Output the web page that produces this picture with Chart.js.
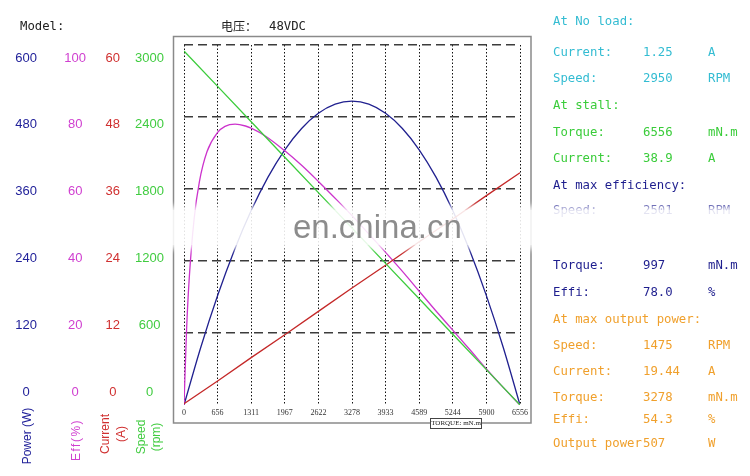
<!DOCTYPE html>
<html>
<head>
<meta charset="utf-8">
<script src="https://cdn.jsdelivr.net/npm/chart.js@4.4.0/dist/chart.umd.min.js"></script>
<style>
html,body{margin:0;padding:0;background:#fff;}
#wrap{position:relative;width:750px;height:476px;overflow:hidden;background:#fff;}
#c{position:absolute;left:0;top:0;}
.t{position:absolute;white-space:pre;font-family:'DejaVu Sans Mono',monospace;font-size:12.3px;line-height:14px;}
.vt{position:absolute;font-family:'Liberation Sans',Arial,sans-serif;font-size:12px;text-align:center;white-space:pre;transform:translate(-50%,-50%) rotate(-90deg);}
.cy{color:#33bcd2;} .gr{color:#3acc3a;} .nv{color:#1e1e8e;} .or{color:#f0a02c;}
#band{position:absolute;left:165px;top:210px;width:600px;height:35px;background:rgba(255,255,255,0.88);box-shadow:0 0 6px 4px rgba(255,255,255,0.85);}
#wm{position:absolute;left:293px;top:209px;font-family:'Liberation Sans',Arial,sans-serif;font-size:33px;line-height:36px;color:#8c8c8c;}
#tq{position:absolute;left:430px;top:418px;width:50px;height:9px;border:1px solid #444;background:#fff;font-family:'Liberation Serif',serif;font-size:7px;line-height:9px;text-align:center;color:#222;}
</style>
</head>
<body>
<div id="wrap">
<canvas id="c" width="750" height="476"></canvas>

<div class="t" style="left:20px;top:19px;color:#222;">Model:</div>
<div class="t" style="left:221px;top:18px;color:#222;font-family:'Noto Sans CJK SC',sans-serif;font-size:12px;line-height:16px;">电压：</div>
<div class="t" style="left:269px;top:19px;color:#222;">48VDC</div>

<div class="vt" style="left:27px;top:436px;color:#22229a;line-height:14px;">Power (W)</div>
<div class="vt" style="left:76px;top:440px;color:#d040d0;line-height:14px;letter-spacing:1.5px;">Eff(%)</div>
<div class="vt" style="left:112.5px;top:434px;color:#d03030;line-height:16px;">Current
(A)</div>
<div class="vt" style="left:149px;top:437px;color:#40cc40;line-height:15px;">Speed
(rpm)</div>

<div class="t cy" style="left:553px;top:14px;">At No load:</div>
<div class="t cy" style="left:553px;top:45px;">Current:</div><div class="t cy" style="left:643px;top:45px;">1.25</div><div class="t cy" style="left:708px;top:45px;">A</div>
<div class="t cy" style="left:553px;top:71px;">Speed:</div><div class="t cy" style="left:643px;top:71px;">2950</div><div class="t cy" style="left:708px;top:71px;">RPM</div>
<div class="t gr" style="left:553px;top:98px;">At stall:</div>
<div class="t gr" style="left:553px;top:125px;">Torque:</div><div class="t gr" style="left:643px;top:125px;">6556</div><div class="t gr" style="left:708px;top:125px;">mN.m</div>
<div class="t gr" style="left:553px;top:151px;">Current:</div><div class="t gr" style="left:643px;top:151px;">38.9</div><div class="t gr" style="left:708px;top:151px;">A</div>
<div class="t nv" style="left:553px;top:178px;">At max efficiency:</div>
<div class="t nv" style="left:553px;top:203px;">Speed:</div><div class="t nv" style="left:643px;top:203px;">2501</div><div class="t nv" style="left:708px;top:203px;">RPM</div>
<div class="t nv" style="left:553px;top:258px;">Torque:</div><div class="t nv" style="left:643px;top:258px;">997</div><div class="t nv" style="left:708px;top:258px;">mN.m</div>
<div class="t nv" style="left:553px;top:285px;">Effi:</div><div class="t nv" style="left:643px;top:285px;">78.0</div><div class="t nv" style="left:708px;top:285px;">%</div>
<div class="t or" style="left:553px;top:312px;">At max output power:</div>
<div class="t or" style="left:553px;top:338px;">Speed:</div><div class="t or" style="left:643px;top:338px;">1475</div><div class="t or" style="left:708px;top:338px;">RPM</div>
<div class="t or" style="left:553px;top:364px;">Current:</div><div class="t or" style="left:643px;top:364px;">19.44</div><div class="t or" style="left:708px;top:364px;">A</div>
<div class="t or" style="left:553px;top:390px;">Torque:</div><div class="t or" style="left:643px;top:390px;">3278</div><div class="t or" style="left:708px;top:390px;">mN.m</div>
<div class="t or" style="left:553px;top:412px;">Effi:</div><div class="t or" style="left:643px;top:412px;">54.3</div><div class="t or" style="left:708px;top:412px;">%</div>
<div class="t or" style="left:553px;top:436px;">Output power</div><div class="t or" style="left:643px;top:436px;">507</div><div class="t or" style="left:708px;top:436px;">W</div>

<div id="band"></div>
<div id="wm">en.china.cn</div>
<div id="tq">TORQUE: mN.m</div>
</div>

<script>
// ---- data ----
const torqueTicks = [0, 656, 1311, 1967, 2622, 3278, 3933, 4589, 5244, 5900, 6556];
const speedRpm    = [2950, 2655, 2360, 2065, 1770, 1475, 1180, 885, 590, 295, 0];
const currentA    = [0.2, 4.0, 7.9, 11.7, 15.6, 19.5, 23.3, 27.2, 31.0, 34.9, 38.7];

const powerTorque = [0, 328, 656, 984, 1311, 1639, 1967, 2295, 2622, 2950, 3278, 3606, 3933, 4261, 4589, 4917, 5244, 5572, 5900, 6228, 6556];
const powerW      = [0, 96.3, 182.4, 258.4, 324.0, 379.8, 425.3, 460.8, 486.1, 501.3, 506.3, 501.3, 486.1, 460.8, 425.3, 379.7, 324.2, 258.3, 182.3, 96.3, 0];

const effTorque = [0, 50, 100, 200, 300, 450, 656, 800, 997, 1200, 1311, 1600, 1967, 2300, 2622, 3000, 3278, 3600, 3933, 4300, 4589, 4900, 5244, 5600, 5900, 6200, 6556];
const effPct    = [0, 20.8, 34.7, 52.0, 62.0, 70.4, 75.7, 77.4, 78.0, 77.5, 76.9, 74.6, 70.6, 66.5, 62.1, 56.7, 52.6, 47.6, 42.4, 36.5, 31.6, 26.4, 20.8, 15.0, 10.0, 5.3, 0];

const powerTicks   = [0, 120, 240, 360, 480, 600];
const effTicks     = [0, 20, 40, 60, 80, 100];
const currentTicks = [0, 12, 24, 36, 48, 60];
const speedTicks   = [0, 600, 1200, 1800, 2400, 3000];

// ---- helpers ----
const pts = (xs, ys) => xs.map((x, i) => ({x: x, y: ys[i]}));
const lbl = (v) => String(v);
const setTicks = (arr) => (axis) => { axis.ticks = arr.map(v => ({value: v})); };
const fixW = (w) => (axis) => { axis.width = w; };

// label columns: 0 label sits slightly above the baseline, top label slightly below the top line
function labelAxis(arr, color, weight, width, pad) {
  const M = arr[arr.length - 1];
  return {
    position: 'left', weight: weight,
    min: -0.038922 * M, max: 1.038922 * M,
    afterBuildTicks: setTicks(arr),
    afterFit: fixW(width),
    grid: {display: false, drawTicks: false},
    border: {display: false},
    ticks: {color: color, font: {size: 13, family: "'Liberation Sans', Arial, sans-serif"},
            crossAlign: 'center', padding: pad, autoSkip: false, callback: lbl}
  };
}

const framePlugin = {
  id: 'frame',
  beforeDraw(chart) {
    const a = chart.chartArea, ctx = chart.ctx;
    ctx.save();
    ctx.strokeStyle = '#8a8a8a';
    ctx.lineWidth = 1.5;
    ctx.strokeRect(a.left - 10.5, a.top - 8.5, (a.right - a.left) + 21.5, (a.bottom - a.top) + 26.5);
    ctx.restore();
  }
};

const lineDs = (label, data, color, axis, mono) => ({
  label: label, data: data, yAxisID: axis,
  borderColor: color, backgroundColor: color, borderWidth: 1.3,
  pointRadius: 0, fill: false, tension: 0,
  cubicInterpolationMode: mono ? 'monotone' : 'default'
});

new Chart(document.getElementById('c'), {
  type: 'line',
  data: {
    datasets: [
      lineDs('Speed (rpm)', pts(torqueTicks, speedRpm), '#3ccc3c', 'yS', false),
      lineDs('Current (A)', pts(torqueTicks, currentA), '#c42828', 'yC', false),
      lineDs('Eff (%)', pts(effTorque, effPct), '#cc33cc', 'yE', true),
      lineDs('Power (W)', pts(powerTorque, powerW), '#20208f', 'yP', true)
    ]
  },
  options: {
    responsive: false,
    devicePixelRatio: 1,
    animation: false,
    layout: {padding: {left: 0, top: 45, right: 230, bottom: 55}},
    plugins: {legend: {display: false}, tooltip: {enabled: false}},
    scales: {
      x: {
        type: 'linear', min: 0, max: 6556,
        afterBuildTicks: setTicks(torqueTicks),
        afterFit: (s) => { s.height = 16; },
        grid: {color: '#111', lineWidth: 1, drawTicks: false},
        border: {display: false, dash: [1.5, 2]},
        ticks: {color: '#333', font: {size: 8, family: "'Liberation Serif', serif"},
                padding: 3, autoSkip: false, maxRotation: 0, callback: lbl}
      },
      yP: {display: false, min: 0, max: 600},
      yE: {display: false, min: 0, max: 100},
      yC: {display: false, min: 0, max: 60},
      yS: {
        position: 'right', min: 0, max: 3000,
        afterBuildTicks: setTicks(speedTicks),
        afterFit: fixW(0),
        grid: {drawTicks: false, lineWidth: 1.4,
               color: (c) => (c.tick && c.tick.value === 0) ? 'rgba(0,0,0,0)' : '#3c3c3c'},
        border: {display: false, dash: [9, 5]},
        ticks: {display: false}
      },
      tPower:   labelAxis(powerTicks,   '#22229a', 4, 48, 11),
      tEff:     labelAxis(effTicks,     '#d040d0', 3, 48, 10),
      tCurrent: labelAxis(currentTicks, '#d03030', 2, 32, 8),
      tSpeed:   labelAxis(speedTicks,   '#40cc40', 1, 56, 20)
    }
  },
  plugins: [framePlugin]
});
</script>
</body>
</html>
